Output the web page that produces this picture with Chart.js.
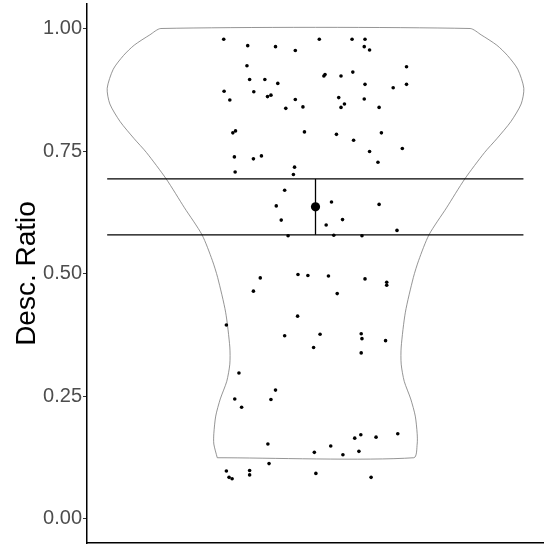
<!DOCTYPE html>
<html>
<head>
<meta charset="utf-8">
<script src="https://cdn.jsdelivr.net/npm/chart.js@4"></script>
<style>body{margin:0;background:#fff}</style>
</head>
<body>
<canvas id="violinChart" width="544" height="545"></canvas>
<script>
// jittered observations: x offset from group centre, y = desc. ratio
const jitterX = [-0.241,-0.178,-0.105,-0.053,0.010,0.096,0.130,0.128,0.142,-0.180,0.239,0.022,0.025,0.067,0.098,
  -0.173,-0.133,-0.099,0.130,0.204,0.239,-0.240,-0.162,-0.225,-0.126,-0.117,-0.053,0.061,0.128,-0.078,
  -0.033,0.067,0.076,0.167,-0.217,-0.210,-0.029,0.055,0.100,0.173,-0.213,-0.163,-0.142,0.142,0.228,
  0.164,-0.211,-0.055,-0.058,-0.081,0.042,-0.103,0.167,-0.090,0.071,0.028,0.214,-0.072,0.048,0.122,
  -0.046,-0.020,0.034,-0.145,0.130,0.187,0.187,-0.163,0.057,-0.047,-0.234,0.012,-0.081,0.120,0.122,
  0.184,-0.005,0.120,-0.201,-0.105,-0.212,-0.117,-0.194,-0.125,0.040,-0.003,0.072,0.114,0.103,0.119,
  0.159,0.216,-0.234,-0.173,-0.173,-0.122,0.001,-0.227,-0.219,0.146];
const descRatio = [0.978,0.965,0.963,0.955,0.978,0.978,0.978,0.963,0.956,0.924,0.922,0.903,0.906,0.903,0.911,
  0.896,0.896,0.888,0.886,0.879,0.886,0.872,0.871,0.854,0.861,0.864,0.855,0.859,0.856,0.837,
  0.840,0.839,0.846,0.839,0.787,0.791,0.789,0.784,0.772,0.787,0.738,0.734,0.740,0.749,0.755,
  0.727,0.707,0.717,0.702,0.670,0.646,0.638,0.641,0.609,0.610,0.599,0.588,0.577,0.578,0.577,
  0.498,0.496,0.495,0.491,0.489,0.482,0.476,0.464,0.459,0.413,0.395,0.376,0.373,0.377,0.367,
  0.363,0.349,0.338,0.297,0.262,0.244,0.243,0.227,0.152,0.148,0.135,0.130,0.137,0.164,0.171,
  0.166,0.173,0.097,0.098,0.089,0.112,0.092,0.084,0.081,0.084];

// violin outline: half width at each height
const violinY  = [0.124,0.152,0.173,0.209,0.244,0.280,0.315,0.350,0.421,0.492,0.527,0.579,0.634,0.693,0.747,0.775,0.810,0.846,0.878,0.917,0.945,0.966,0.987,1.000];
const violinHW = [0.258,0.267,0.267,0.262,0.250,0.233,0.225,0.225,0.236,0.257,0.271,0.298,0.344,0.392,0.444,0.476,0.513,0.540,0.547,0.531,0.504,0.476,0.435,0.406];

const meanValue = 0.636;
const ciLow = 0.579;
const ciHigh = 0.693;
const barLeft = 0.453, barRight = 1.546;
const yTicks = [0, 0.25, 0.5, 0.75, 1.0];

const centre = 1;
const pts = jitterX.map((d, i) => ({x: centre + d, y: descRatio[i]}));
const outline = [];
violinY.forEach((y, i) => outline.push({x: centre - violinHW[i], y: y}));
for (let i = violinY.length - 1; i >= 0; i--) outline.push({x: centre + violinHW[i], y: violinY[i]});
outline.push(outline[0]);

const seg = (a, b) => ({
  data: [a, b], showLine: true, borderColor: "#000", borderWidth: 1.3,
  pointRadius: 0, order: 1
});

const chart = new Chart(document.getElementById("violinChart"), {
  type: "scatter",
  data: {
    datasets: [
      {data: [{x: centre, y: meanValue}], pointRadius: 4.6, backgroundColor: "#000", borderWidth: 0, order: 0},
      seg({x: barLeft, y: ciHigh}, {x: barRight, y: ciHigh}),
      seg({x: barLeft, y: ciLow}, {x: barRight, y: ciLow}),
      seg({x: centre, y: ciLow}, {x: centre, y: ciHigh}),
      {data: pts, pointRadius: 1.8, backgroundColor: "#000", borderWidth: 0, order: 2},
      {data: outline, showLine: true, fill: false, tension: 0.25, borderColor: "#7a7a7a",
       borderWidth: 0.8, pointRadius: 0, order: 3}
    ]
  },
  options: {
    responsive: false,
    animation: false,
    events: [],
    elements: {point: {hoverRadius: 0, hitRadius: 0, hoverBorderWidth: 0}},
    layout: {padding: {top: 4, right: 0, left: 0, bottom: 0}},
    plugins: {legend: {display: false}, tooltip: {enabled: false}},
    scales: {
      x: {
        type: "linear", min: 0.4, max: 1.6,
        ticks: {display: false},
        grid: {display: false},
        border: {color: "#000", width: 1.5},
        afterFit: s => { s.height = 2; s.paddingLeft = 0; s.paddingRight = 0; }
      },
      y: {
        min: -0.05, max: 1.05,
        afterBuildTicks: s => { s.ticks = yTicks.map(v => ({value: v})); },
        ticks: {
          callback: v => v.toFixed(2),
          color: "#4d4d4d",
          font: {family: "Liberation Sans, Arial", size: 20},
          padding: 1
        },
        grid: {drawOnChartArea: false, tickLength: 4, color: "#333"},
        border: {color: "#000", width: 1.5},
        title: {
          display: true, text: "Desc. Ratio", color: "#000",
          font: {family: "Liberation Sans, Arial", size: 28},
          padding: {top: 10, bottom: 0}
        },
        afterFit: s => { s.width = 87; s.paddingTop = 0; s.paddingBottom = 0; }
      }
    }
  }
});

// points may spill over the panel edge like in ggplot, so no extra padding for them
chart.data.datasets.forEach((d, i) => { chart.getDatasetMeta(i).controller.getMaxOverflow = () => 0; });
chart.update();
</script>
</body>
</html>
